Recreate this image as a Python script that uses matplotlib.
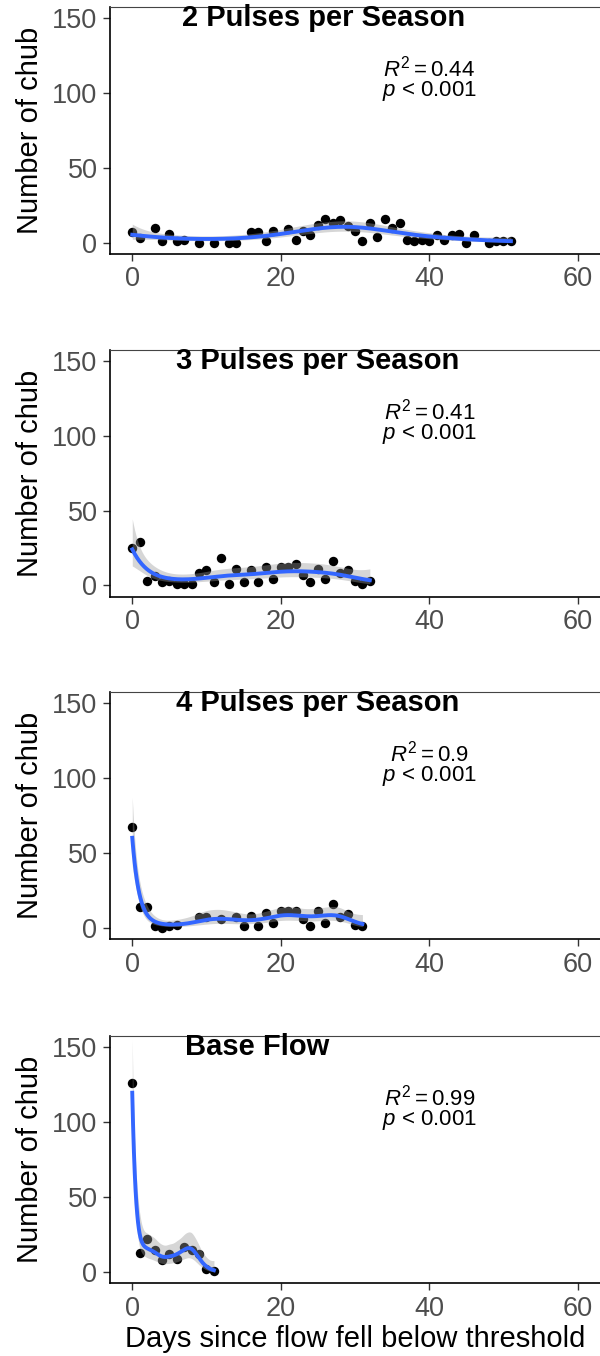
import numpy as np
import matplotlib.pyplot as plt

plt.rcParams['font.family'] = ['Liberation Sans', 'DejaVu Sans']
plt.rcParams['mathtext.fontset'] = 'custom'
plt.rcParams['mathtext.rm'] = 'Liberation Sans'
plt.rcParams['mathtext.it'] = 'Liberation Sans:italic'

# chub counts by days since flow fell below threshold
days_2p = [0, 1, 3, 4, 5, 6, 7, 9, 11, 13, 14, 16, 17, 18, 19, 21, 22, 23, 24, 25,
           26, 27, 28, 29, 30, 31, 32, 33, 34, 35, 36, 37, 38, 39, 40, 41, 42, 43,
           44, 45, 46, 48, 49, 50, 51]
chub_2p = [7, 3, 10, 1, 6, 1, 2, 0, 0, 0, 0, 7, 7, 1, 8, 9, 2, 8, 5, 12,
           16, 13, 15, 11, 8, 1, 13, 4, 16, 10, 13, 2, 1, 2, 1, 5, 2, 5,
           6, 0, 5, 0, 1, 1, 1]

days_3p = [0, 1, 2, 3, 4, 5, 6, 7, 8, 9, 10, 11, 12, 13, 14, 15, 16, 17, 18, 19,
           20, 21, 22, 23, 24, 25, 26, 27, 28, 29, 30, 31, 32]
chub_3p = [25, 29, 3, 6, 2, 3, 1, 1, 1, 8, 10, 2, 18, 1, 11, 2, 10, 2, 12, 4,
           12, 12, 14, 7, 2, 11, 4, 16, 8, 10, 3, 1, 3]

days_4p = [0, 1, 2, 3, 4, 5, 6, 9, 10, 12, 14, 15, 16, 17, 18, 19, 20, 21, 22,
           23, 24, 25, 26, 27, 28, 29, 30, 31]
chub_4p = [67, 14, 14, 1, 0, 1, 2, 7, 7, 6, 7, 1, 8, 1, 10, 3, 11, 11, 11,
           6, 1, 11, 3, 16, 7, 9, 2, 1]

days_base = [0, 1, 2, 3, 4, 5, 6, 7, 8, 9, 10, 11]
chub_base = [126, 13, 22, 15, 8, 12, 9, 17, 15, 12, 2, 1]

titles = ['2 Pulses per Season', '3 Pulses per Season', '4 Pulses per Season', 'Base Flow']
title_x = [25.7, 25.0, 25.0, 16.8]
r2_labels = ['0.44', '0.41', '0.9', '0.99']
series = [(days_2p, chub_2p), (days_3p, chub_3p), (days_4p, chub_4p), (days_base, chub_base)]


def tps_basis(x, k=10):
    # rank-k thin plate regression spline basis
    n = len(x)
    E = np.abs(x[:, None] - x[None, :]) ** 3 / 12
    w, U = np.linalg.eigh(E)
    idx = np.argsort(-np.abs(w))[:k]
    Uk, Dk = U[:, idx], w[idx]
    T = np.column_stack([np.ones(n), x])
    Q, _ = np.linalg.qr(Uk.T @ T, mode='complete')
    C = Uk @ Q[:, 2:]
    S = np.zeros((k, k))
    S[:k - 2, :k - 2] = Q[:, 2:].T @ np.diag(Dk) @ Q[:, 2:]

    def design(g):
        Eg = np.abs(g[:, None] - x[None, :]) ** 3 / 12
        return np.column_stack([Eg @ C, np.ones(len(g)), g])
    return design, S


def pirls(X, y, S, lam, beta):
    for _ in range(200):
        eta = np.clip(X @ beta, -20, 10)
        mu = np.exp(eta)
        z = eta + (y - mu) / mu
        A = X.T @ (mu[:, None] * X) + lam * S
        new = np.linalg.solve(A, X.T @ (mu * z))
        if np.max(np.abs(new - beta)) < 1e-9:
            beta = new
            break
        beta = new
    mu = np.exp(np.clip(X @ beta, -20, 10))
    A = X.T @ (mu[:, None] * X) + lam * S
    return beta, mu, A


def smooth(x, y, grid, k=10):
    # quasi-Poisson GAM (log link), smoothing picked by REML with scale profiled out
    x = np.asarray(x, float)
    y = np.asarray(y, float)
    n = len(y)
    design, S = tps_basis(x, k)
    X = design(x)
    G = design(grid)
    S *= np.linalg.norm(X.T @ X) / np.linalg.norm(S)
    beta = np.linalg.lstsq(X, np.log(y + 0.5), rcond=None)[0]
    ylogy = np.where(y > 0, y * np.log(np.where(y > 0, y, 1)), 0)

    best = None
    for lam in 10 ** np.linspace(6, -6, 241):
        beta, mu, A = pirls(X, y, S, lam, beta)
        dev = 2 * np.sum(ylogy - y * np.log(mu) - (y - mu))
        pdev = dev + lam * beta @ S @ beta
        reml = (0.5 * (n - 2) * np.log(pdev) + 0.5 * np.linalg.slogdet(A)[1]
                - 0.5 * (k - 2) * np.log(lam))
        if best is None or reml < best[0]:
            Ainv = np.linalg.inv(A)
            edf = np.trace(Ainv @ X.T @ (mu[:, None] * X))
            phi = np.sum((y - mu) ** 2 / mu) / (n - edf)
            best = (reml, beta.copy(), Ainv * phi)
    _, beta, Vb = best
    eta = G @ beta
    se = np.sqrt(np.einsum('ij,jk,ik->i', G, Vb, G))
    return np.exp(eta), np.exp(eta - 1.96 * se), np.exp(eta + 1.96 * se)


fig = plt.figure(figsize=(6, 13.56), dpi=100)
bottoms = [0.8127, 0.5600, 0.3075, 0.0536]

for i, (x, y) in enumerate(series):
    ax = fig.add_axes([0.1833, bottoms[i], 0.8167, 0.1822])
    grid = np.linspace(min(x), max(x), 200)
    fit, lo, hi = smooth(x, y, grid)

    ax.scatter(x, y, s=46, color='black', zorder=2, linewidths=0)
    ax.fill_between(grid, lo, hi, color='#999999', alpha=0.4, linewidth=0, zorder=3)
    ax.plot(grid, fit, color='#3366FF', lw=2.8, zorder=4)

    ax.text(title_x[i], 150, titles[i], ha='center', va='center',
            fontsize=21, fontweight='bold')
    ax.text(40, 111, r'$R^2 = \mathrm{' + r2_labels[i] + '}$', ha='center',
            va='baseline', fontsize=16)
    ax.text(40, 98, r'$p$ < 0.001', ha='center', va='baseline', fontsize=16)

    ax.set_xlim(-3, 63)
    ax.set_ylim(-7.5, 157.5)
    ax.set_xticks([0, 20, 40, 60])
    ax.set_yticks([0, 50, 100, 150])
    ax.tick_params(labelsize=19.5, labelcolor='#4D4D4D', color='#333333',
                   length=5, width=1, pad=4)
    ax.spines['right'].set_visible(False)
    ax.spines['top'].set_color('#444444')
    ax.spines['top'].set_linewidth(0.8)
    ax.spines['left'].set_linewidth(1.2)
    ax.spines['bottom'].set_linewidth(1.2)
    ax.set_ylabel('Number of chub', fontsize=21, labelpad=6)
    if i == 3:
        ax.set_xlabel('Days since flow fell below threshold', fontsize=21, labelpad=2)

fig.savefig('out.png', dpi=100)
